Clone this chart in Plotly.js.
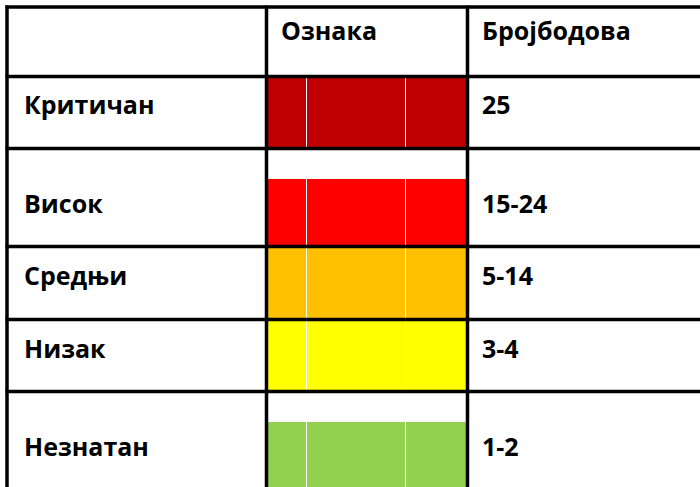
<!DOCTYPE html>
<html>
<head>
<meta charset="utf-8">
<script src="https://cdn.plot.ly/plotly-3.0.1.min.js"></script>
<style>html,body{margin:0;padding:0;background:#fff}#chart{width:700px;height:487px}</style>
</head>
<body>
<div id="chart"></div>
<script>
// ---- data ----
const headers = ['', 'Ознака', 'Бројбодова'];
const levels = ['Критичан', 'Висок', 'Средњи', 'Низак', 'Незнатан'];
const scores = ['25', '15-24', '5-14', '3-4', '1-2'];
const levelColors = ['#C00000', '#FF0000', '#FFC000', '#FFFF00', '#92D050'];

// ---- layout geometry (pixels in a 700x487 frame) ----
const W = 700, H = 487;
const colLines = [7, 266.5, 467.5];
const rowLines = [7, 76.5, 148.5, 246.5, 319.5, 391.5];
const fillTop = [78, 179, 248, 321, 422];
const fillBottom = [147, 245, 318, 390, 487];
const fillX = [268, 466];
const splitX = [306.5, 405.5];
const textX = [22, 279, 480];
const headerY = 30;
const rowTextY = [104, 203, 275, 348, 446];

const shapes = [];
levels.forEach((lv, i) => {
  shapes.push({type: 'rect', xref: 'x', yref: 'y', x0: fillX[0], x1: fillX[1],
    y0: fillTop[i], y1: fillBottom[i], fillcolor: levelColors[i], line: {width: 0}, layer: 'below'});
  splitX.forEach(sx => shapes.push({type: 'line', xref: 'x', yref: 'y', x0: sx, x1: sx,
    y0: fillTop[i], y1: fillBottom[i], line: {color: '#ffffff', width: 1}}));
});
rowLines.forEach(y => shapes.push({type: 'line', xref: 'x', yref: 'y', x0: colLines[0] - 1.5, x1: W,
  y0: y, y1: y, line: {color: '#000000', width: 3.5}}));
colLines.forEach(x => shapes.push({type: 'line', xref: 'x', yref: 'y', x0: x, x1: x,
  y0: rowLines[0] - 1.5, y1: H, line: {color: '#000000', width: 3.5}}));

const font = {family: 'Open Sans, Noto Sans, sans-serif', size: 25, color: '#000000', weight: 'bold'};
const annotations = [];
headers.forEach((h, j) => {
  if (h) annotations.push({x: textX[j], y: headerY, xref: 'x', yref: 'y', text: h,
    showarrow: false, xanchor: 'left', yanchor: 'middle', font: font});
});
levels.forEach((lv, i) => {
  annotations.push({x: textX[0], y: rowTextY[i], xref: 'x', yref: 'y', text: lv,
    showarrow: false, xanchor: 'left', yanchor: 'middle', font: font});
  annotations.push({x: textX[2], y: rowTextY[i], xref: 'x', yref: 'y', text: scores[i],
    showarrow: false, xanchor: 'left', yanchor: 'middle', font: font});
});

const layout = {
  width: W, height: H,
  margin: {l: 0, r: 0, t: 0, b: 0, pad: 0},
  paper_bgcolor: '#ffffff', plot_bgcolor: '#ffffff',
  xaxis: {range: [0, W], visible: false, fixedrange: true},
  yaxis: {range: [H, 0], visible: false, fixedrange: true},
  shapes: shapes, annotations: annotations, showlegend: false
};
Plotly.newPlot('chart', [{x: [], y: [], type: 'scatter', hoverinfo: 'skip'}], layout, {staticPlot: true});
</script>
</body>
</html>
